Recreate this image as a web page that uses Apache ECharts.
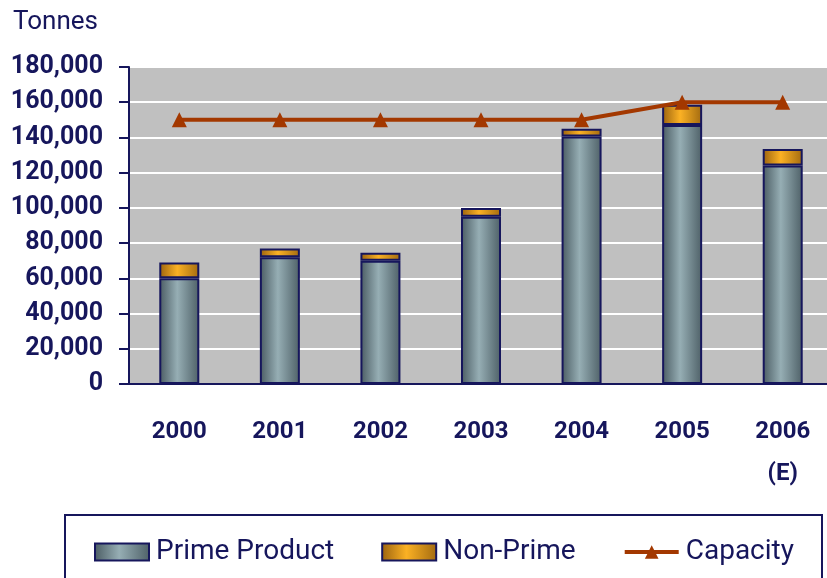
<!DOCTYPE html>
<html>
<head>
<meta charset="utf-8">
<script src="https://cdn.jsdelivr.net/npm/echarts@6/dist/echarts.min.js"></script>
<style>
  html, body { margin: 0; padding: 0; background: #fff; }
  #chart { width: 827px; height: 578px; }
</style>
</head>
<body>
<div id="chart"></div>
<script>
var years = ['2000', '2001', '2002', '2003', '2004', '2005', '2006\n(E)'];
var primeProduct = [60000, 72000, 70000, 95000, 140500, 147000, 124000];
var nonPrime = [9000, 5000, 4500, 5000, 4500, 11500, 9500];
var capacity = [150000, 150000, 150000, 150000, 150000, 160000, 160000];

var navy = '#16165c';
var font = "Roboto, 'Liberation Sans', sans-serif";

function grad(c0, c1, c2) {
  return new echarts.graphic.LinearGradient(0, 0, 1, 0, [
    { offset: 0, color: c0 },
    { offset: 0.45, color: c1 },
    { offset: 1, color: c2 }
  ]);
}

var chart = echarts.init(document.getElementById('chart'));
chart.setOption({
  animation: false,
  textStyle: { fontFamily: font },
  title: {
    text: 'Tonnes',
    left: 8, top: 4,
    textStyle: { color: navy, fontSize: 26, fontWeight: 'normal', fontFamily: font }
  },
  grid: {
    left: 129, top: 67, right: -6, bottom: 194,
    outerBoundsMode: 'none', containLabel: false,
    show: true, backgroundColor: '#c0c0c0', borderWidth: 0
  },
  graphic: [{
    type: 'rect',
    shape: { x: 65, y: 515, width: 757, height: 80 },
    style: { fill: 'none', stroke: navy, lineWidth: 2 }
  }],
  legend: {
    left: 89, top: 533,
    itemWidth: 54, itemHeight: 17, itemGap: 47,
    textStyle: { color: navy, fontSize: 28, fontFamily: font, padding: [0, 0, 0, 2] },
    data: [
      { name: 'Prime Product', icon: 'rect' },
      { name: 'Non-Prime', icon: 'rect' },
      { name: 'Capacity', lineStyle: { width: 4 } }
    ]
  },
  xAxis: {
    type: 'category',
    data: years,
    axisLine: { lineStyle: { color: navy, width: 2 } },
    axisTick: { length: 9, lineStyle: { color: navy, width: 2 } },
    axisLabel: { interval: 0, color: navy, fontSize: 24, fontWeight: 'bold', lineHeight: 42, margin: 27, fontFamily: font }
  },
  yAxis: {
    type: 'value',
    min: 0, max: 180000, interval: 20000,
    axisLine: { show: true, lineStyle: { color: navy, width: 2 } },
    axisTick: { show: true, length: 10, lineStyle: { color: navy, width: 2 } },
    axisLabel: {
      color: navy, fontSize: 25, fontWeight: 'bold', margin: 26, fontFamily: font,
      formatter: function (v) { return v.toLocaleString('en-US'); }
    },
    splitLine: { lineStyle: { color: '#ffffff', width: 2 } }
  },
  series: [{
    name: 'Prime Product',
    type: 'bar',
    stack: 'total',
    barWidth: 40,
    itemStyle: { color: grad('#4a5b62', '#96aeb4', '#4e6067'), borderColor: navy, borderWidth: 2 },
    data: primeProduct
  }, {
    name: 'Non-Prime',
    type: 'bar',
    stack: 'total',
    barWidth: 40,
    itemStyle: { color: grad('#9a620f', '#fbb124', '#a26a10'), borderColor: navy, borderWidth: 2 },
    data: nonPrime
  }, {
    name: 'Capacity',
    type: 'line',
    symbol: 'triangle',
    symbolSize: 15,
    lineStyle: { color: '#a33800', width: 4 },
    itemStyle: { color: '#a33800' },
    data: capacity
  }]
});
</script>
</body>
</html>
